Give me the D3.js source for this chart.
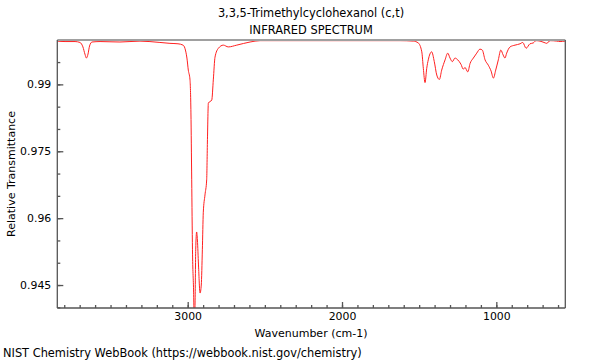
<!DOCTYPE html>
<html><head><meta charset="utf-8">
<script src="https://cdn.jsdelivr.net/npm/d3@7"></script>
<style>body{margin:0;background:#fff}svg{display:block}text{font-family:"DejaVu Sans",sans-serif}</style>
</head><body><svg id="c" width="600" height="360"></svg>
<script>
const titleLines = ["3,3,5-Trimethylcyclohexanol (c,t)", "INFRARED SPECTRUM"];
const xLabel = "Wavenumber (cm-1)";
const yLabel = "Relative Transmittance";
const footer = "NIST Chemistry WebBook (https://webbook.nist.gov/chemistry)";
const xDomain = [3845, 553];
const yDomain = [0.93985, 0.99995];
const xTicks = [3000, 2000, 1000];
const yTicks = [0.945, 0.96, 0.975, 0.99];
const wavenumber = [3847,3795,3730,3698,3679,3666,3656,3646,3636,3620,3568,3439,3309,3180,3115,3063,3030,3018,3005,2996,2985,2979,2974,2969,2962,2957,2952,2948,2942,2937,2930,2920,2912,2905,2899,2888,2877,2872,2866,2844,2834,2823,2801,2769,2737,2682,2596,2531,2272,1948,1624,1538,1506,1483,1473,1462,1451,1441,1419,1402,1386,1369,1354,1332,1315,1300,1285,1268,1250,1229,1214,1203,1185,1170,1149,1127,1106,1091,1073,1052,1034,1019,1004,987,971,956,944,933,911,879,846,829,807,782,760,743,717,691,673,652,608,587,555];
const transmittance = [0.9997,0.9996,0.9996,0.9994,0.9984,0.9968,0.9959,0.9968,0.9986,0.9995,0.9996,0.9995,0.9997,0.9994,0.9992,0.9991,0.9988,0.9981,0.9959,0.9932,0.9910,0.9836,0.9686,0.9529,0.9439,0.9360,0.9416,0.9529,0.9569,0.9551,0.9495,0.9432,0.9450,0.9529,0.9612,0.9652,0.9686,0.9776,0.9858,0.9865,0.9910,0.9961,0.9981,0.9988,0.9984,0.9988,0.9995,0.9998,0.9998,0.9998,0.9998,0.9997,0.9993,0.9973,0.9936,0.9904,0.9936,0.9955,0.9973,0.9951,0.9921,0.9911,0.9932,0.9955,0.9970,0.9959,0.9951,0.9959,0.9955,0.9945,0.9934,0.9938,0.9928,0.9947,0.9959,0.9970,0.9979,0.9977,0.9955,0.9943,0.9930,0.9914,0.9932,0.9955,0.9977,0.9966,0.9959,0.9970,0.9984,0.9988,0.9991,0.9994,0.9981,0.9991,0.9993,0.9998,0.9997,0.9994,0.9992,0.9998,0.9997,0.9996,0.9997];

const svg = d3.select("#c");
const m = {l:57.3, r:565.3, t:40, b:308};
const x = d3.scaleLinear().domain(xDomain).range([m.l, m.r]);
const y = d3.scaleLinear().domain(yDomain).range([m.b, m.t]);

svg.append("defs").append("clipPath").attr("id","clip").append("rect")
  .attr("x", m.l).attr("y", m.t).attr("width", m.r-m.l).attr("height", m.b-m.t);

// title
svg.selectAll("text.title").data(titleLines).enter().append("text")
  .attr("x", 311).attr("y", (d,i)=>17+i*17).attr("text-anchor","middle")
  .attr("font-size", 11.4).attr("fill","#000").text(d=>d);

// line
const pts = wavenumber.map((w,i)=>[w, transmittance[i]]);
svg.append("path").datum(pts).attr("clip-path","url(#clip)")
  .attr("fill","none").attr("stroke","#ff2020").attr("stroke-width",1)
  .attr("d", d3.line().x(d=>x(d[0])).y(d=>y(d[1])).curve(d3.curveMonotoneX));

// frame
svg.append("line").attr("x1",m.l).attr("x2",m.r).attr("y1",m.t).attr("y2",m.t)
  .attr("stroke","#a0a0a0").attr("stroke-width",2);
const axisColor = "#555";
svg.append("line").attr("x1",m.r).attr("x2",m.r).attr("y1",m.t).attr("y2",m.b).attr("stroke",axisColor).attr("stroke-width",1.3);

// x axis (ticks inward)
const xMinor = d3.range(600, 3900, 100).filter(v=>v<=xDomain[0] && v>=xDomain[1]);
const gx = svg.append("g").attr("transform",`translate(0,${m.b})`);
gx.call(d3.axisBottom(x).tickValues(xMinor).tickSize(-3).tickFormat(""));
const gx2 = svg.append("g").attr("transform",`translate(0,${m.b})`);
gx2.call(d3.axisBottom(x).tickValues(xTicks).tickSize(-6).tickPadding(4).tickFormat(d3.format("d")));
[gx,gx2].forEach(g=>{g.selectAll("path,line").attr("stroke",axisColor).attr("stroke-width",1.3);
  g.selectAll("text").attr("font-size",10.9).attr("fill","#000").attr("font-family","DejaVu Sans, sans-serif");});

// y axis
const yMinor = d3.range(0.94, 1.0001, 0.005).filter(v=>v>=yDomain[0] && v<=yDomain[1]);
const gy = svg.append("g").attr("transform",`translate(${m.l},0)`);
gy.call(d3.axisLeft(y).tickValues(yMinor).tickSize(-3).tickFormat(""));
const gy2 = svg.append("g").attr("transform",`translate(${m.l},0)`);
gy2.call(d3.axisLeft(y).tickValues(yTicks).tickSize(-6).tickPadding(6).tickFormat(d=>d3.format(".3~f")(d)));
[gy,gy2].forEach(g=>{g.selectAll("path,line").attr("stroke",axisColor).attr("stroke-width",1.3);
  g.selectAll("text").attr("font-size",10.9).attr("fill","#000").attr("font-family","DejaVu Sans, sans-serif");});
gy.select("path.domain").attr("d",`M0,${m.t}V${m.b}`);
gx.select("path.domain").attr("d",`M${m.l},0H${m.r}`);
gy2.select("path.domain").remove(); gx2.select("path.domain").remove();

// labels
svg.append("text").attr("x",311).attr("y",337).attr("text-anchor","middle")
  .attr("font-size",11).text(xLabel);
svg.append("text").attr("transform","translate(14.5,174) rotate(-90)").attr("text-anchor","middle")
  .attr("font-size",11).text(yLabel);
svg.append("text").attr("x",3).attr("y",357).attr("font-size",11.4).text(footer);
</script></body></html>
